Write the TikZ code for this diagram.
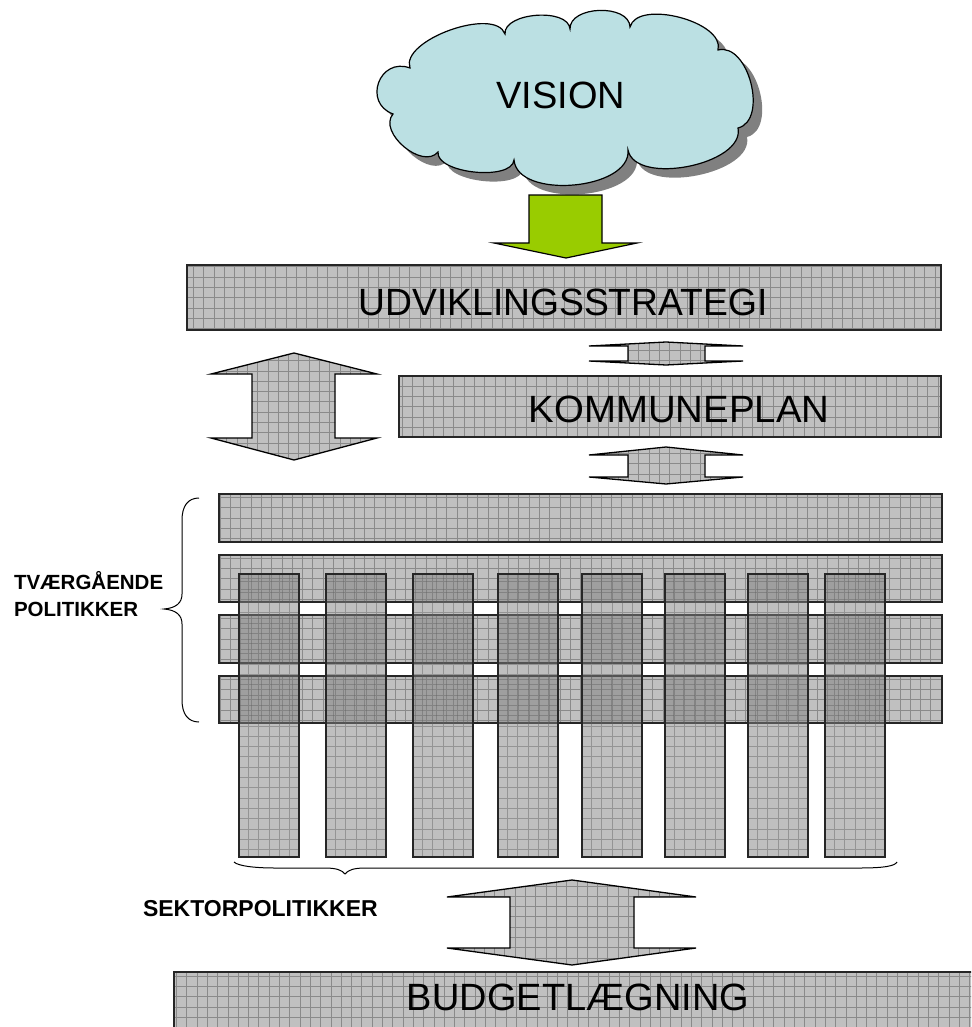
\documentclass[tikz,border=0pt]{standalone}
\usepackage{fontspec}
\setmainfont{Liberation Sans}
\definecolor{barc}{HTML}{C0C0C0}
\definecolor{gridc}{HTML}{8A8A8A}
\definecolor{cloudc}{HTML}{BBE0E3}
\definecolor{shadowc}{HTML}{808080}
\definecolor{greenc}{HTML}{99CC00}
\tikzset{
  gridded/.style={path picture={\draw[gridc, line width=0.6pt, step=10.3pt]
      ([shift={(-12pt,-12pt)}]path picture bounding box.south west) grid
      ([shift={(12pt,12pt)}]path picture bounding box.north east);}},
  vgridded/.style={path picture={\draw[gridc!70!black, draw opacity=0.45, line width=0.6pt, step=10.3pt]
      ([shift={(-12pt,-12pt)}]path picture bounding box.south west) grid
      ([shift={(12pt,12pt)}]path picture bounding box.north east);}},
  hbar/.style={rectangle, draw=black!85, line width=1.3pt, fill=barc, gridded, inner sep=0pt, outer sep=0pt},
  vbar/.style={rectangle, draw=black!85, line width=1.3pt, fill=black!50, fill opacity=0.5, vgridded, inner sep=0pt, outer sep=0pt},
  blockarrow/.style={draw=black, line width=1.3pt, fill=barc, gridded, line join=miter},
  bigtext/.style={inner sep=0pt, outer sep=0pt, font=\fontsize{38}{40}\selectfont},
  sidelabel/.style={inner sep=0pt, outer sep=0pt, font=\fontsize{20.5}{22}\selectfont\bfseries},
  bracestyle/.style={draw=black, line width=1pt},
}
\newcommand\cloudoutline[1]{\path[#1] (393,114) to[bend left=90,looseness=1.7] (410,68)
  to[bend left=90,looseness=0.75] (505,34)
  to[bend left=90,looseness=0.85] (570,29)
  to[bend left=90,looseness=1.0] (630,27)
  to[bend left=90,looseness=0.82] (718,50)
  to[bend left=90,looseness=1.0] (738,128)
  to[bend left=90,looseness=0.85] (628,150)
  to[bend left=90,looseness=0.9] (514,160)
  to[bend left=90,looseness=0.72] (438,152)
  to[bend left=90,looseness=1.04] (393,114) -- cycle;}
\begin{document}
\begin{tikzpicture}[x=1pt,y=-1pt]
\useasboundingbox (0,0) rectangle (971,1027);
\clip (0,0) rectangle (971,1027);
% cloud
\cloudoutline{fill=shadowc, shift={(9,9)}}
\cloudoutline{fill=cloudc, draw=black, line width=1.2pt}
\node[bigtext, anchor=base] (vision) at (561,109) {VISION};
% green arrow
\filldraw[fill=greenc, draw=black, line width=1.2pt, line join=miter]
  (529,195) -- (602,195) -- (602,243) -- (637,243) -- (566,258) -- (494,243) -- (529,243) -- cycle;
\coordinate (greentip) at (566,258);
% UDVIKLINGSSTRATEGI
\node[hbar, minimum width=754pt, minimum height=65pt] (udv) at (564,297.5) {};
\node[bigtext, anchor=base] (udvt) at (563,315) {\scalebox{0.98}[1]{UDVIKLINGSSTRATEGI}};
% small arrow 1
\path[blockarrow] (666,342) -- (743,346) -- (705,346) -- (705,361) -- (743,361) -- (666,365)
  -- (589,361) -- (628,361) -- (628,346) -- (589,346) -- cycle;
% big left arrow
\path[blockarrow] (294,353) -- (377,374) -- (335,374) -- (335,438) -- (377,438) -- (294,460)
  -- (211,438) -- (252,438) -- (252,374) -- (211,374) -- cycle;
% KOMMUNEPLAN
\node[hbar, minimum width=542pt, minimum height=61pt] (komm) at (670,406.5) {};
\node[bigtext, anchor=base] (kommt) at (679,422) {\scalebox{1.01}[1]{KOMMUNEPLAN}};
% small arrow 2
\path[blockarrow] (666,447) -- (743,455) -- (705,455) -- (705,477) -- (743,477) -- (666,484)
  -- (589,477) -- (628,477) -- (628,455) -- (589,455) -- cycle;
% rows
\node[hbar, minimum width=723pt, minimum height=48pt] (row1) at (580.5,518) {};
\node[hbar, minimum width=723pt, minimum height=47pt] (row2) at (580.5,578.5) {};
\node[hbar, minimum width=723pt, minimum height=48pt] (row3) at (580.5,639) {};
\node[hbar, minimum width=723pt, minimum height=47pt] (row4) at (580.5,699.5) {};
% sector columns
\foreach \xx/\nn in {239/1,326/2,413/3,498/4,582/5,665/6,748/7,825/8}{
  \node[vbar, minimum width=60pt, minimum height=283pt, anchor=north west] (col\nn) at (\xx,574) {};
}
% braces
\draw[bracestyle] (199,498) .. controls (188,498) and (182,506) .. (182,520) -- (182,594)
  .. controls (182,603) and (176,608) .. (164,609) .. controls (176,610) and (182,615) .. (182,624)
  -- (182,700) .. controls (182,714) and (188,722) .. (199,722);
\draw[bracestyle] (234,862) .. controls (238,866) and (255,868) .. (275,868) -- (325,868)
  .. controls (336,868) and (342,870) .. (345,874) .. controls (348,870) and (354,868) .. (365,868)
  -- (860,868) .. controls (884,868) and (895,866) .. (897,862);
% labels
\node[sidelabel, anchor=base west] (tv1) at (14,589) {TVÆRGÅENDE};
\node[sidelabel, anchor=base west] (tv2) at (14,616) {POLITIKKER};
\node[sidelabel, font=\fontsize{23}{25}\selectfont\bfseries, anchor=base west] (sek) at (143,916) {SEKTORPOLITIKKER};
% bottom arrow
\path[blockarrow] (572,880) -- (696,897) -- (634,897) -- (634,948) -- (696,948) -- (572,965)
  -- (447,948) -- (510,948) -- (510,897) -- (447,897) -- cycle;
% BUDGETLÆGNING
\node[hbar, minimum width=808pt, minimum height=70pt] (budget) at (578,1007) {};
\node[bigtext, anchor=base] (budgett) at (578,1010) {BUDGETLÆGNING};
\end{tikzpicture}
\end{document}
